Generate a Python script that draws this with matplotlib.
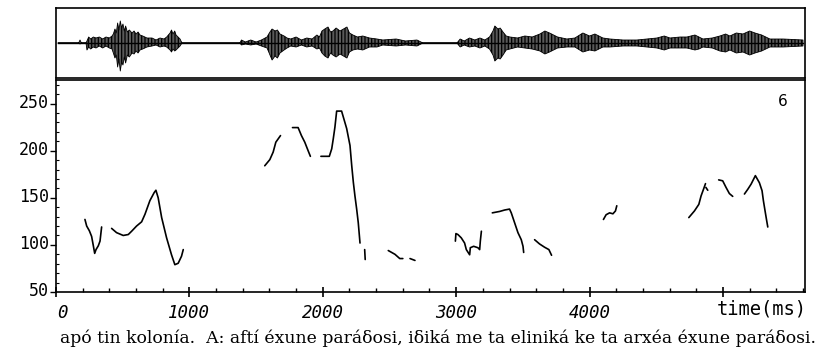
import matplotlib
matplotlib.use("Agg")
import matplotlib.pyplot as plt
from matplotlib.ticker import MultipleLocator, FixedLocator
from matplotlib.transforms import ScaledTranslation

plt.rcParams['hatch.linewidth'] = 0.9

# ---------------- data ----------------
# waveform envelope breakpoints (time ms, upper amplitude, lower amplitude)
wave_ms = [15, 170, 180, 190, 225, 232, 245, 260, 280, 300, 325, 350, 375, 400, 420, 430, 442, 452, 462,
           472, 482, 492, 502, 512, 522, 535, 550, 570,
           585, 600, 615, 630, 650, 682, 720, 750, 780, 810, 830, 855, 866, 877, 890, 900, 930, 944,
           1379, 1390, 1420, 1460, 1500, 1540, 1582, 1595, 1604, 1620, 1642, 1660, 1679, 1710, 1732,
           1760, 1800, 1840, 1880, 1920, 1956, 1975,
           1994, 2015, 2039, 2058, 2076, 2100, 2129, 2155, 2181, 2200, 2226, 2260, 2300, 2350, 2406,
           2450, 2550, 2620, 2706, 2751,
           3006, 3030, 3060, 3100, 3140, 3178, 3215, 3250, 3276, 3290, 3313, 3330, 3351, 3375, 3403,
           3460, 3515, 3570, 3628, 3665, 3700, 3760, 3830, 3890, 3950, 4000, 4040, 4100,
           4153, 4250, 4355, 4430, 4505, 4560, 4603, 4680, 4730, 4790, 4820, 4850, 4920, 4977,
           5020, 5052, 5100, 5150, 5200, 5240, 5290, 5352, 5450, 5600]
wave_up = [0, 0, 3, 0, 0, 2, 6, 4, 6, 5, 6, 4, 6, 5, 7, 9, 14, 10, 20,
           13, 22, 15, 19, 12, 17, 11, 13, 10,
           12, 9, 11, 8, 7, 5, 5, 3, 5, 4, 6, 10, 13, 9, 12, 8, 4, 0,
           0, 3, 1, 3, 1, 3, 6, 9, 11, 14, 12, 13, 9, 7, 5,
           4, 6, 3, 5, 4, 8, 6,
           12, 14, 16, 11, 12, 15, 12, 14, 16, 10, 8, 6, 7, 5, 4,
           3, 4, 2, 3, 0,
           0, 4, 2, 5, 3, 5, 3, 6, 12, 17, 14, 15, 11, 7, 6,
           5, 7, 6, 9, 12, 10, 6, 4, 5, 10, 7, 9, 5,
           4, 3, 3, 4, 5, 7, 5, 6, 6, 8, 6, 4, 5, 7,
           9, 7, 10, 9, 12, 10, 8, 4, 4, 3]
wave_dn = [0, 0, 1, 0, 0, 7, 4, 6, 4, 5, 3, 5, 3, 5, 6, 10, 15, 12, 24,
           16, 28, 19, 22, 14, 20, 12, 14, 10,
           11, 8, 10, 7, 6, 4, 3, 2, 4, 3, 4, 7, 9, 6, 8, 7, 3, 0,
           0, 2, 1, 2, 1, 3, 5, 9, 12, 17, 13, 15, 10, 7, 5,
           3, 4, 2, 4, 3, 6, 5,
           10, 13, 15, 10, 12, 14, 11, 13, 15, 9, 7, 6, 7, 4, 4,
           2, 3, 2, 3, 0,
           0, 4, 2, 4, 3, 5, 3, 6, 12, 18, 15, 16, 12, 7, 6,
           4, 5, 6, 8, 11, 9, 5, 4, 4, 9, 7, 8, 4,
           4, 3, 3, 4, 5, 7, 5, 5, 5, 7, 6, 4, 5, 8,
           9, 7, 10, 9, 12, 10, 8, 4, 4, 3]

# F0 contour segments (time ms, Hz)
f0_segments = [
    ([217, 230, 250, 267, 280, 290, 300, 317, 330, 342],
     [127, 120, 115, 109, 99, 91, 95, 99, 104, 119]),
    ([417, 454, 504, 542, 567, 604, 642, 667, 704, 736, 749, 766, 792, 829, 866, 891, 916, 941, 954],
     [117.5, 113, 110, 111, 114.5, 120, 124.5, 132.5, 147, 155.5, 158, 150, 129, 107.5, 89.5, 79, 80.5, 88, 95]),
    ([1565, 1603, 1628, 1648, 1683],
     [184, 190.5, 198.5, 209, 216]),
    ([1773, 1815, 1840, 1865, 1890, 1907],
     [224.5, 224.5, 216, 209, 200, 194]),
    ([1986, 2049, 2067, 2079, 2091, 2104, 2141, 2179, 2204, 2217, 2229, 2241, 2254, 2266, 2279],
     [194, 194, 202, 213, 225, 242, 242, 223.5, 205.5, 184, 166.5, 152, 138, 123.5, 102]),
    ([2314, 2318],
     [95, 84.5]),
    ([2491, 2516, 2541, 2577, 2600],
     [94, 92, 90, 85.5, 85.5]),
    ([2654, 2691],
     [85.5, 83.5]),
    ([2994, 2998, 3013, 3038, 3063, 3076, 3101, 3106, 3131, 3163, 3176, 3181, 3189],
     [104, 112, 111, 107.5, 102, 95, 89.5, 97, 98.5, 97, 95, 104, 114.5]),
    ([3271, 3326, 3363, 3400, 3413, 3438, 3463, 3488, 3501, 3506],
     [134, 135.5, 137, 138, 134, 123.5, 113, 105.5, 98.5, 92]),
    ([3588, 3625, 3663, 3695, 3715],
     [105.5, 101, 97.5, 95, 89]),
    ([4104, 4124, 4150, 4175, 4194, 4204],
     [127, 132, 134, 133, 136, 141.5]),
    ([4744, 4786, 4819, 4836, 4854, 4869],
     [129, 136, 143, 152, 159, 165]),
    ([4872, 4886],
     [161, 158]),
    ([4968, 4998, 5023, 5048, 5073],
     [169, 168, 161, 154.5, 151.5]),
    ([5161, 5186, 5211, 5243, 5273, 5293, 5303, 5318, 5328, 5336],
     [154, 159, 164.5, 173.5, 166, 157.5, 147, 134, 125.5, 119]),
]

x_major = [0, 1000, 2000, 3000, 4000, 5000]
x_labels = ["0", "1000", "2000", "3000", "4000", ""]
y_major = [50, 100, 150, 200, 250]
panel_label = "6"
axis_label = "time(ms)"
caption = "apó tin kolonía.  A: aftí éxune paráδosi, iδiká me ta eliniká ke ta arxéa éxune paráδosi."

# ---------------- figure ----------------
W, H = 830, 352
fig = plt.figure(figsize=(W / 100, H / 100), dpi=100)
fig.patch.set_facecolor("white")

XMAX = 5615
ax = fig.add_axes([56 / W, 1 - 292 / H, 749 / W, 212 / H])
axw = fig.add_axes([56 / W, 1 - 78 / H, 749 / W, 70 / H])

# waveform
axw.plot([wave_ms[0], wave_ms[-1]], [0, 0], color="black", lw=1.0)
axw.fill_between(wave_ms, wave_up, [-d for d in wave_dn], facecolor="#5a5a5a",
                 edgecolor="black", hatch="|||||", lw=0.6)
axw.set_xlim(0, XMAX)
axw.set_ylim(-35, 35)
axw.set_xticks([])
axw.set_yticks([])
for s in axw.spines.values():
    s.set_linewidth(1.2)
    s.set_color("black")

# F0 contour
for t, f in f0_segments:
    ax.plot(t, f, color="black", lw=1.2, solid_capstyle="round", solid_joinstyle="round")

ax.set_xlim(0, XMAX)
ax.set_ylim(50, 275)
for s in ax.spines.values():
    s.set_linewidth(1.2)
    s.set_color("black")

ax.xaxis.set_major_locator(FixedLocator(x_major))
ax.set_xticklabels(x_labels, family="DejaVu Sans Mono", style="italic", fontsize=12.5)
ax.xaxis.set_minor_locator(MultipleLocator(200))
ax.tick_params(axis="x", which="major", direction="inout", length=7, width=1.2, pad=5)
ax.tick_params(axis="x", which="minor", direction="in", length=3, width=1.0)
xoff = ScaledTranslation(6 / 100, 0, fig.dpi_scale_trans)
ax.get_xticklabels()[0].set_transform(ax.get_xticklabels()[0].get_transform() + xoff)

ax.yaxis.set_major_locator(FixedLocator(y_major))
ax.set_yticklabels([str(v) for v in y_major], family="DejaVu Sans Mono", fontsize=12)
ax.yaxis.set_minor_locator(MultipleLocator(10))
ax.tick_params(axis="y", which="major", direction="out", length=4, width=1.0, pad=1)
ax.tick_params(axis="y", which="minor", direction="in", length=2, width=0.8)
off = ScaledTranslation(0, 3 / 100, fig.dpi_scale_trans)
for lbl in ax.get_yticklabels():
    lbl.set_transform(lbl.get_transform() + off)

ax.text(0.9706, 0.897, panel_label, transform=ax.transAxes, ha="center", va="center",
        fontsize=11, family="DejaVu Sans")

fig.text(807 / W, 1 - 309 / H, axis_label, ha="right", va="center",
         family="DejaVu Sans Mono", fontsize=13.5)

cap = fig.text(438 / W, 1 - 338 / H, caption, ha="center", va="center",
               family="DejaVu Serif", fontsize=11)
fig.canvas.draw()
w = cap.get_window_extent().width
cap.set_fontsize(11 * 753 / w)

fig.savefig("out.png", dpi=100, facecolor="white")
